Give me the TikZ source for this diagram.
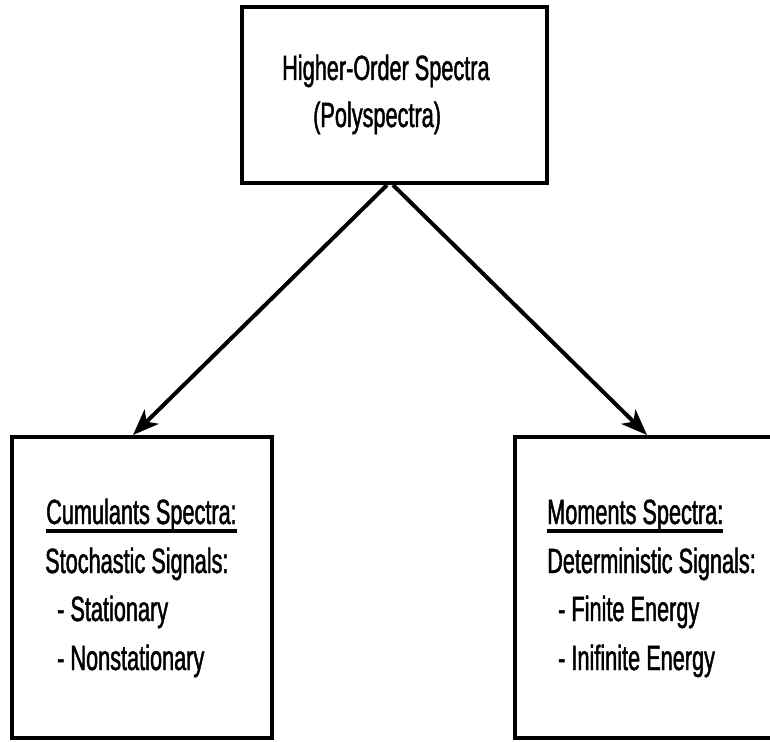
\documentclass[tikz,border=0pt]{standalone}
\usepackage{fontspec}
\setmainfont[FakeStretch=0.62, FakeBold=1.3]{Liberation Sans}
\usetikzlibrary{arrows.meta}

% text with a heavy rule drawn under it
\newcommand\ulined[1]{\setbox0=\hbox{#1}\rlap{\rule[-8.5pt]{\wd0}{3.2pt}}\box0}

\tikzset{
  frame/.style={draw, line width=4pt, rectangle, inner sep=0pt},
  label/.style={anchor=base west, inner sep=0pt, font=\fontsize{35}{42}\selectfont},
  link/.style={line width=4pt, -{Stealth[length=26pt, width=20pt, inset=7pt]}}
}

\begin{document}
\begin{tikzpicture}[x=1pt, y=-1pt]
  \useasboundingbox (0,0) rectangle (770,741);

  % boxes
  \node[frame, minimum width=305pt, minimum height=176pt] (top) at (394.5,95) {};
  \node[frame, minimum width=260pt, minimum height=301pt] (left) at (142,587.5) {};
  \node[frame, minimum width=261pt, minimum height=301pt] (right) at (645.5,587.5) {};

  % title box text
  \node[label] (t1) at (282,80) {Higher-Order Spectra};
  \node[label] (t2) at (313,127) {(Polyspectra)};

  % cumulants box text
  \node[label] (l1) at (46,524) {\ulined{Cumulants Spectra:}};
  \node[label] (l2) at (45,573) {Stochastic Signals:};
  \node[label] (l3) at (57,621) {- Stationary};
  \node[label] (l4) at (57,670) {- Nonstationary};

  % moments box text
  \node[label] (r1) at (547,524) {\ulined{Moments Spectra:}};
  \node[label] (r2) at (547,573) {Deterministic Signals:};
  \node[label] (r3) at (558,621) {- Finite Energy};
  \node[label] (r4) at (558,670) {- Inifinite Energy};

  % connectors
  \draw[link] ([xshift=-7.5pt]top.south) -- ([xshift=-9pt]left.north);
  \draw[link] ([xshift=-1.5pt]top.south) -- ([xshift=1.5pt]right.north);
\end{tikzpicture}
\end{document}
